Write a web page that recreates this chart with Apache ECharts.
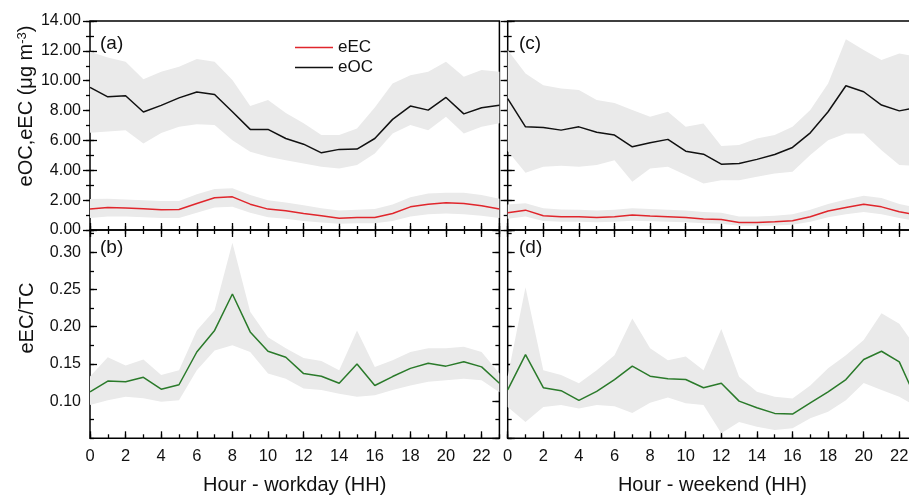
<!DOCTYPE html>
<html><head><meta charset="utf-8">
<script src="https://cdn.jsdelivr.net/npm/echarts@6/dist/echarts.min.js"></script>
<style>html,body{margin:0;padding:0;background:#fff}#c{width:909px;height:498px}</style>
</head><body><div id="c"></div>
<script>
const hours = [0,1,2,3,4,5,6,7,8,9,10,11,12,13,14,15,16,17,18,19,20,21,22,23];

// workday eOC / eEC (ug m-3)
const ocWork   = [9.55,8.92,8.99,7.90,8.35,8.85,9.24,9.08,7.92,6.74,6.74,6.13,5.75,5.17,5.40,5.42,6.13,7.41,8.30,8.03,8.88,7.78,8.19,8.35];
const ocWorkHi = [11.94,11.55,11.27,10.10,10.60,10.93,11.45,11.27,10.04,8.30,8.70,7.83,7.15,6.36,6.36,6.80,8.20,9.82,10.37,10.60,11.27,10.26,10.71,10.60];
const ocWorkLo = [6.51,6.60,6.69,5.80,6.49,6.91,7.09,7.03,6.02,5.24,4.90,4.68,4.46,4.23,4.12,4.35,5.13,6.47,7.03,6.69,7.58,6.47,6.91,7.15];
const ecWork   = [1.40,1.51,1.47,1.42,1.35,1.37,1.78,2.16,2.22,1.73,1.40,1.29,1.11,0.95,0.78,0.84,0.84,1.11,1.55,1.73,1.82,1.78,1.62,1.40];
const ecWorkHi = [2.07,2.10,2.05,2.00,1.95,1.95,2.40,2.75,2.80,2.35,2.00,1.85,1.65,1.45,1.30,1.35,1.40,1.70,2.20,2.45,2.50,2.50,2.35,2.10];
const ecWorkLo = [0.80,0.90,0.90,0.85,0.80,0.80,1.15,1.50,1.55,1.15,0.85,0.75,0.60,0.50,0.42,0.45,0.45,0.60,0.90,1.05,1.10,1.05,0.95,0.80];

// weekend eOC / eEC
const ocWeek   = [8.80,6.91,6.86,6.69,6.91,6.55,6.36,5.57,5.84,6.07,5.28,5.08,4.41,4.46,4.73,5.06,5.53,6.51,7.92,9.66,9.26,8.37,7.98,8.20];
const ocWeekHi = [12.05,10.49,9.70,9.48,9.37,8.70,8.50,8.03,7.58,7.92,6.91,7.14,5.62,5.69,6.13,6.36,6.91,8.03,9.82,12.77,12.05,11.38,11.83,11.60];
const ocWeekLo = [5.30,3.83,4.23,4.30,4.23,4.35,4.68,3.23,4.12,4.23,3.68,3.12,3.34,3.34,3.56,3.79,3.90,5.02,6.02,6.47,6.47,5.35,4.35,4.30];
const ecWeek   = [1.15,1.33,0.95,0.89,0.88,0.84,0.89,1.00,0.93,0.89,0.84,0.73,0.70,0.51,0.51,0.55,0.62,0.89,1.27,1.51,1.73,1.55,1.22,1.00];
const ecWeekHi = [1.70,1.80,1.45,1.38,1.35,1.30,1.35,1.45,1.40,1.35,1.30,1.20,1.15,0.90,0.90,0.95,1.05,1.35,1.75,2.05,2.30,2.15,1.75,1.50];
const ecWeekLo = [0.75,0.90,0.60,0.55,0.55,0.52,0.55,0.62,0.58,0.55,0.52,0.45,0.42,0.28,0.28,0.30,0.35,0.55,0.85,1.05,1.20,1.05,0.80,0.60];

// eEC/TC
const ratioWork   = [0.1125,0.127,0.126,0.132,0.116,0.122,0.166,0.195,0.244,0.193,0.167,0.159,0.137,0.1335,0.124,0.150,0.121,0.133,0.144,0.151,0.147,0.153,0.146,0.124];
const ratioWorkHi = [0.133,0.159,0.148,0.156,0.135,0.1415,0.195,0.222,0.313,0.220,0.186,0.171,0.158,0.154,0.1415,0.195,0.146,0.155,0.166,0.171,0.171,0.173,0.166,0.137];
const ratioWorkLo = [0.0946,0.101,0.106,0.104,0.099,0.101,0.1415,0.168,0.175,0.166,0.137,0.130,0.117,0.115,0.110,0.106,0.108,0.115,0.121,0.126,0.128,0.130,0.128,0.112];
const ratioWeek   = [0.115,0.1625,0.118,0.114,0.101,0.113,0.129,0.147,0.1335,0.130,0.129,0.118,0.124,0.100,0.091,0.0835,0.0826,0.0977,0.1125,0.129,0.156,0.167,0.1527,0.100];
const ratioWeekHi = [0.133,0.253,0.1415,0.135,0.124,0.1415,0.1616,0.211,0.171,0.155,0.160,0.1415,0.197,0.1326,0.1125,0.106,0.1036,0.121,0.144,0.1616,0.182,0.218,0.204,0.170];
const ratioWeekLo = [0.092,0.072,0.092,0.0946,0.090,0.0946,0.093,0.084,0.0977,0.105,0.097,0.0946,0.0567,0.072,0.0656,0.061,0.0634,0.0768,0.0857,0.101,0.1245,0.115,0.106,0.092];

const FONT = '"Liberation Sans", Arial, sans-serif';
const RED = '#e0262c', BLACK = '#111', GREEN = '#2a7a2a', BAND = '#eaeaea';

const gbase = {show: true, borderColor: '#000', borderWidth: 1.5, outerBoundsMode: 'none', containLabel: false};
const grids = [
  Object.assign({left: 90,    top: 21,  width: 409.4, height: 209}, gbase),
  Object.assign({left: 90,    top: 230, width: 409.4, height: 208.3}, gbase),
  Object.assign({left: 507.7, top: 21,  width: 409.4, height: 209}, gbase),
  Object.assign({left: 507.7, top: 230, width: 409.4, height: 208.3}, gbase)
];

function ax(grid, position, min, max, interval, len, extra) {
  return Object.assign({
    type: 'value', gridIndex: grid, position: position, min: min, max: max, interval: interval,
    axisLine: {show: false}, splitLine: {show: false},
    axisTick: {show: true, inside: true, length: len, lineStyle: {color: '#000', width: 1.3}},
    axisLabel: {show: false}, minorTick: {show: false}
  }, extra || {});
}
const xLab = (name) => ({
  axisLabel: {show: true, fontSize: 16.5, fontFamily: FONT, color: '#111', margin: 10, showMaxLabel: false},
  name: name, nameLocation: 'middle', nameGap: 37,
  nameTextStyle: {fontSize: 20, fontFamily: FONT, color: '#111'}
});

const xAxes = [
  ax(0,'bottom',0,23,2,7), ax(0,'bottom',0,23,1,4), ax(0,'top',0,23,2,7), ax(0,'top',0,23,1,4),
  ax(1,'bottom',0,23,2,7, xLab('Hour - workday (HH)')), ax(1,'bottom',0,23,1,4),
  ax(2,'bottom',0,23,2,7), ax(2,'bottom',0,23,1,4), ax(2,'top',0,23,2,7), ax(2,'top',0,23,1,4),
  ax(3,'bottom',0,23,2,7, xLab('Hour - weekend (HH)')), ax(3,'bottom',0,23,1,4)
];
const yLabTop = {axisLabel: {show: true, fontSize: 16, fontFamily: FONT, color: '#111', margin: 9,
  formatter: v => v.toFixed(2)}};
const yLabBot = {axisLabel: {show: true, fontSize: 16, fontFamily: FONT, color: '#111', margin: 9,
  showMinLabel: false, showMaxLabel: false, formatter: v => v.toFixed(2)}};
const yAxes = [];
[[0,true],[1,true],[2,false],[3,false]].forEach(([g, lab]) => {
  const top = (g === 0 || g === 2);
  const mn = top ? 0 : 0.05, mx = top ? 14 : 0.33, iv = top ? 2 : 0.05, miv = top ? 1 : 0.025;
  yAxes.push(ax(g,'left',mn,mx,iv,7, lab ? (top ? yLabTop : yLabBot) : {}));
  yAxes.push(ax(g,'left',mn,mx,miv,4));
  yAxes.push(ax(g,'right',mn,mx,iv,7));
  yAxes.push(ax(g,'right',mn,mx,miv,4));
});

const series = [];
function band(xi, yi, lo, hi) {
  series.push({
    type: 'custom', xAxisIndex: xi, yAxisIndex: yi, silent: true, z: 1, clip: true,
    encode: {x: 0, y: 1},
    data: hours.map((h, i) => [h, lo[i], hi[i]]),
    renderItem: function (params, api) {
      if (params.dataIndex !== 0) return null;
      const pts = [];
      for (let i = 0; i < hours.length; i++) pts.push(api.coord([hours[i], hi[i]]));
      for (let i = hours.length - 1; i >= 0; i--) pts.push(api.coord([hours[i], lo[i]]));
      return {type: 'polygon', shape: {points: pts}, style: {fill: BAND, stroke: null}};
    }
  });
}
function line(name, xi, yi, vals, color) {
  series.push({type:'line', name: name, xAxisIndex: xi, yAxisIndex: yi, symbol: 'none', z: 3,
    lineStyle: {color: color, width: 1.5}, itemStyle: {color: color},
    data: hours.map((h, i) => [h, vals[i]])});
}
band(0, 0, ocWorkLo, ocWorkHi);
band(0, 0, ecWorkLo, ecWorkHi);
band(4, 4, ratioWorkLo, ratioWorkHi);
band(6, 8, ocWeekLo, ocWeekHi);
band(6, 8, ecWeekLo, ecWeekHi);
band(10, 12, ratioWeekLo, ratioWeekHi);
line('eEC', 0, 0, ecWork, RED);
line('eOC', 0, 0, ocWork, BLACK);
line('eEC/TC workday', 4, 4, ratioWork, GREEN);
line('eEC', 6, 8, ecWeek, RED);
line('eOC', 6, 8, ocWeek, BLACK);
line('eEC/TC weekend', 10, 12, ratioWeek, GREEN);

const txt = (x, y, text, size) => ({
  type: 'text', x: x, y: y, silent: true,
  style: {text: text, fontSize: size, fontFamily: FONT, fill: '#111', align: 'left', verticalAlign: 'middle'}
});

const chart = echarts.init(document.getElementById('c'), null, {renderer: 'canvas'});
chart.setOption({
  animation: false,
  backgroundColor: '#fff',
  grid: grids,
  xAxis: xAxes,
  yAxis: yAxes,
  legend: {
    data: [{name: 'eEC', icon: 'rect'}, {name: 'eOC', icon: 'rect'}],
    left: 290, top: 34, orient: 'vertical',
    itemWidth: 38, itemHeight: 1.6, itemGap: 3, selectedMode: false,
    textStyle: {fontSize: 17, fontFamily: FONT, color: '#111', padding: [0, 0, 0, 0]}
  },
  series: series,
  graphic: [
    txt(100, 44, '(a)', 19),
    txt(100, 248, '(b)', 19),
    txt(519, 44, '(c)', 19),
    txt(519, 248, '(d)', 19),
    {type: 'text', x: 26, y: 106, rotation: Math.PI / 2, silent: true,
      style: {text: '{a|eOC,eEC (μg m}{s|-3}{a|)}', align: 'center', verticalAlign: 'middle',
        fontFamily: FONT, fill: '#111', fontSize: 20,
        rich: {a: {fontSize: 20, fontFamily: FONT, fill: '#111'},
               s: {fontSize: 13, fontFamily: FONT, fill: '#111', verticalAlign: 'top'}}}},
    {type: 'text', x: 27, y: 318, rotation: Math.PI / 2, silent: true,
      style: {text: 'eEC/TC', align: 'center', verticalAlign: 'middle', fontFamily: FONT, fill: '#111', fontSize: 20}}
  ]
});
</script></body></html>
